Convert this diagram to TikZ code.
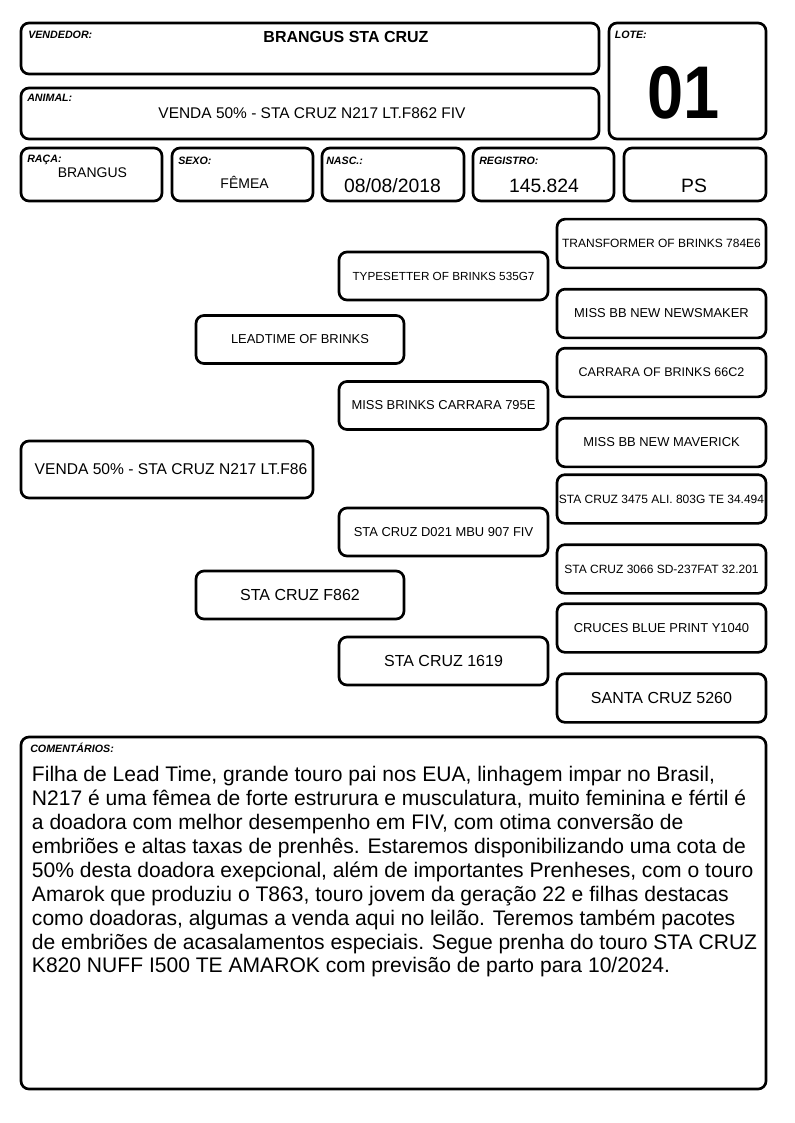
\documentclass[tikz,border=0pt]{standalone}
\usepackage{fontspec}
\setmainfont{Liberation Sans}
\usepackage{graphicx}
\usepackage{tikz}

\begin{document}
\begin{tikzpicture}
    [ x=0.75pt, y=-0.75pt,
      box/.style={draw=black, line width=2pt, rounded corners=6pt},
      tag/.style={anchor=base west, inner sep=0pt, font=\bfseries\itshape\fontsize{8}{9}\selectfont},
      val/.style={anchor=base, inner sep=0pt},
      pbox/.style={draw=black, line width=2pt, rounded corners=6pt, inner sep=1pt, align=center},
      gen1/.style={pbox, minimum width=219pt, minimum height=42.75pt, font=\fontsize{11.7}{14}\selectfont},
      gen2/.style={pbox, minimum width=156pt, minimum height=36pt},
      gen3/.style={pbox, minimum width=156.75pt, minimum height=36pt},
      gen4/.style={pbox, minimum width=156.75pt, minimum height=36.5pt},
      small/.style={font=\fontsize{9}{11}\selectfont},
      medium/.style={font=\fontsize{9.7}{12}\selectfont},
      large/.style={font=\fontsize{12}{14}\selectfont}]

  \useasboundingbox (0,0) rectangle (794,1123);

%%%%%%%%%%%%%%%%%%%%%%%%%%%%%%%%%%%%%%%%%%%%%%%%%%%%%%%%%%%%%%%%%%%%%%%%%%%%%%%%%%%%%%%%%%%%%%%%%%%%%%%%%%
%header boxes
	  \draw[box] (21,23) rectangle (599,74);
	  \draw[box] (21,88) rectangle (599,139);
	  \draw[box] (609,23) rectangle (766,139);
	  \draw[box] (21,148) rectangle (162,201);
	  \draw[box] (172,148) rectangle (313,201);
	  \draw[box] (322,148) rectangle (464,201);
	  \draw[box] (473,148) rectangle (614,201);
	  \draw[box] (624,148) rectangle (766,201);

	  \node[tag] (vendTag) at (28,39) {VENDEDOR:};
	  \node[tag] (animTag) at (27,102) {ANIMAL:};
	  \node[tag] (loteTag) at (614.5,39) {LOTE:};
	  \node[tag] (racaTag) at (27,163) {RAÇA:};
	  \node[tag] (sexoTag) at (178,165) {SEXO:};
	  \node[tag] (nascTag) at (326,165) {NASC.:};
	  \node[tag] (regTag) at (479,165) {REGISTRO:};

	  \node[val, font=\bfseries\fontsize{12}{14}\selectfont] (vend) at (346,42.3) {BRANGUS STA CRUZ};
	  \node[val, font=\fontsize{11.6}{13}\selectfont] (anim) at (312,119) {VENDA 50\% - STA CRUZ N217 LT.F862 FIV};
	  \node[val, font=\bfseries\fontsize{56}{60}\selectfont] (lote) at (683.5,119) {\scalebox{0.87}[1]{01}};
	  \node[val, font=\fontsize{10.5}{12}\selectfont] (raca) at (92.4,178) {BRANGUS};
	  \node[val, font=\fontsize{10.5}{12}\selectfont] (sexo) at (244.6,189) {FÊMEA};
	  \node[val, font=\fontsize{14.5}{17}\selectfont] (nasc) at (392.5,192.3) {08/08/2018};
	  \node[val, font=\fontsize{14.5}{17}\selectfont] (reg) at (544,192.3) {145.824};
	  \node[val, font=\fontsize{14.5}{17}\selectfont] (ps) at (694,192.5) {PS};

%%%%%%%%%%%%%%%%%%%%%%%%%%%%%%%%%%%%%%%%%%%%%%%%%%%%%%%%%%%%%%%%%%%%%%%%%%%%%%%%%%%%%%%%%%%%%%%%%%%%%%%%%%
%pedigree
	  \node[gen1] (animal) at (167,469.5) {\hspace*{6pt}VENDA 50\% - STA CRUZ N217 LT.F86};

	  \node[gen2, medium] (sire) at (300,339.5) {LEADTIME OF BRINKS};
	  \node[gen2, large] (dam) at (300,595) {STA CRUZ F862};

	  \node[gen3, font=\fontsize{8.8}{11}\selectfont] (ss) at (443.5,276) {TYPESETTER OF BRINKS 535G7};
	  \node[gen3, medium] (sd) at (443.5,405.5) {MISS BRINKS CARRARA 795E};
	  \node[gen3, medium] (ds) at (443.5,532) {STA CRUZ D021 MBU 907 FIV};
	  \node[gen3, large] (dd) at (443.5,661) {STA CRUZ 1619};

	  \node[gen4, small] (sss) at (661.5,243.5) {TRANSFORMER OF BRINKS 784E6};
	  \node[gen4, medium] (ssd) at (661.5,313.5) {MISS BB NEW NEWSMAKER};
	  \node[gen4, font=\fontsize{9.4}{11}\selectfont] (sds) at (661.5,372.5) {CARRARA OF BRINKS 66C2};
	  \node[gen4, medium] (sdd) at (661.5,442.5) {MISS BB NEW MAVERICK};
	  \node[gen4, small] (dss) at (661.5,499) {STA CRUZ 3475 ALI. 803G TE 34.494};
	  \node[gen4, small] (dsd) at (661.5,569) {STA CRUZ 3066 SD-237FAT 32.201};
	  \node[gen4, medium] (dds) at (661.5,628) {CRUCES BLUE PRINT Y1040};
	  \node[gen4, large] (ddd) at (661.5,698) {SANTA CRUZ 5260};

%%%%%%%%%%%%%%%%%%%%%%%%%%%%%%%%%%%%%%%%%%%%%%%%%%%%%%%%%%%%%%%%%%%%%%%%%%%%%%%%%%%%%%%%%%%%%%%%%%%%%%%%%%
%comments
	  \draw[box] (21,737) rectangle (766,1089);
	  \node[tag] (comTag) at (30,752.5) {COMENTÁRIOS:};
	  % anchor at the baseline of the last line
	  \node[anchor=base west, inner sep=0pt, align=left, font=\fontsize{15.8}{17.9}\selectfont] (com) at (31.7,972.9)
	    {Filha de Lead Time, grande touro pai nos EUA, linhagem impar no Brasil,\\
	     N217 é uma fêmea de forte estrurura e musculatura, muito feminina e fértil é\\
	     a doadora com melhor desempenho em FIV, com otima conversão de\\
	     embriões e altas taxas de prenhês. Estaremos disponibilizando uma cota de\\
	     50\% desta doadora exepcional, além de importantes Prenheses, com o touro\\
	     Amarok que produziu o T863, touro jovem da geração 22 e filhas destacas\\
	     como doadoras, algumas a venda aqui no leilão. Teremos também pacotes\\
	     de embriões de acasalamentos especiais. Segue prenha do touro STA CRUZ\\
	     K820 NUFF I500 TE AMAROK com previsão de parto para 10/2024.};

\end{tikzpicture}
\end{document}
